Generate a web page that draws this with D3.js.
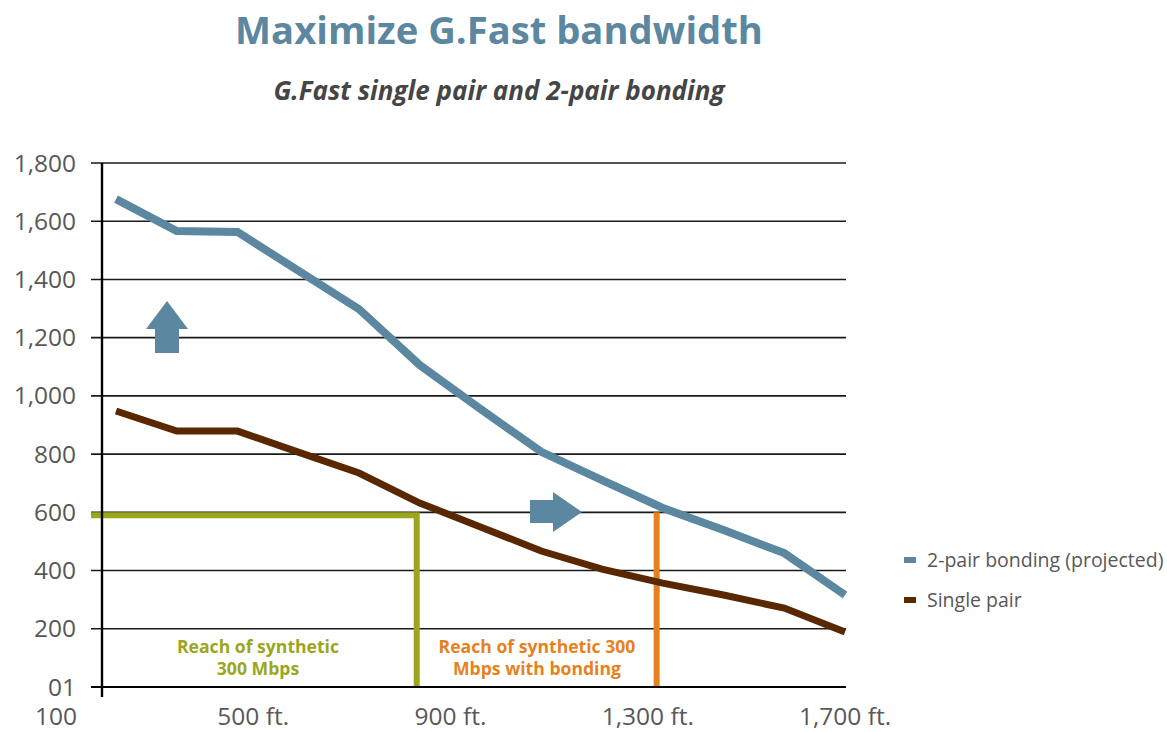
<!DOCTYPE html>
<html>
<head>
<meta charset="utf-8">
<script src="https://cdn.jsdelivr.net/npm/d3@7/dist/d3.min.js"></script>
<style>
  html, body { margin: 0; padding: 0; background: #fff; }
  svg { display: block; font-family: "Open Sans", "Noto Sans", sans-serif; }
</style>
</head>
<body>
<svg id="chart" width="1167" height="732"></svg>
<script>
// Throughput (Mbps) at evenly spaced loop lengths, short to long
const bondedMbps = [1676, 1566, 1563, 1430, 1298, 1106, 955, 808, 711, 615, 539, 460, 316];
const singleMbps = [948, 879, 879, 807, 735, 632, 550, 467, 405, 357, 316, 271, 189];

const yTicks = [0, 200, 400, 600, 800, 1000, 1200, 1400, 1600, 1800];
const yTickLabels = ["01", "200", "400", "600", "800", "1,000", "1,200", "1,400", "1,600", "1,800"];

const xTickFeet = [100, 500, 900, 1300, 1700];
const xTickLabels = ["100", "500 ft.", "900 ft.", "1,300 ft.", "1,700 ft."];

const seriesNames = ["2-pair bonding (projected)", "Single pair"];
const seriesColors = ["#5b87a1", "#592800"];

// Target rate and where each configuration reaches it (position along the loop-length points)
const targetMbps = 600;
const reachSingle = 4.95;
const reachBonded = 8.9;

const svg = d3.select("#chart");

const x = d3.scaleLinear().domain([0, bondedMbps.length - 1]).range([116, 845]);
const y = d3.scaleLinear().domain([0, 1800]).range([687, 163]);
const xLabel = d3.scaleLinear().domain([100, 1700]).range([56, 845]);

const gridLeft = 91, gridRight = 846;

// Title and subtitle
svg.append("text")
  .attr("x", 499).attr("y", 44)
  .attr("text-anchor", "middle")
  .attr("font-size", 38.2).attr("font-weight", 700)
  .attr("fill", "#5b87a1")
  .text("Maximize G.Fast bandwidth");

svg.append("text")
  .attr("x", 499).attr("y", 100)
  .attr("text-anchor", "middle")
  .attr("font-size", 26).attr("font-weight", 700).attr("font-style", "italic")
  .attr("fill", "#454545")
  .text("G.Fast single pair and 2-pair bonding");

// Horizontal gridlines
svg.append("g").selectAll("line")
  .data(yTicks.filter(d => d > 0))
  .join("line")
  .attr("x1", gridLeft).attr("x2", gridRight)
  .attr("y1", d => y(d)).attr("y2", d => y(d))
  .attr("stroke", "#1a1a1a").attr("stroke-width", 1.6);

// Y tick labels
svg.append("g").selectAll("text")
  .data(yTicks)
  .join("text")
  .attr("x", 76).attr("y", d => y(d))
  .attr("dy", "0.35em")
  .attr("text-anchor", "end")
  .attr("font-size", 24.5)
  .attr("fill", "#585858")
  .text((d, i) => yTickLabels[i]);

// X tick labels
svg.append("g").selectAll("text")
  .data(xTickFeet)
  .join("text")
  .attr("x", d => xLabel(d)).attr("y", 725)
  .attr("text-anchor", "middle")
  .attr("font-size", 24.5)
  .attr("fill", "#585858")
  .text((d, i) => xTickLabels[i]);

// Reach markers
svg.append("path")
  .attr("d", `M${gridLeft},${y(targetMbps) + 3}H${x(reachSingle)}V${y(0)}`)
  .attr("fill", "none")
  .attr("stroke", "#9ba61c").attr("stroke-width", 6)
  .attr("stroke-linejoin", "miter");

svg.append("line")
  .attr("x1", x(reachBonded)).attr("x2", x(reachBonded))
  .attr("y1", y(targetMbps)).attr("y2", y(0))
  .attr("stroke", "#e6821e").attr("stroke-width", 6);

// Axes
svg.append("line")
  .attr("x1", gridLeft).attr("x2", gridRight)
  .attr("y1", y(0)).attr("y2", y(0))
  .attr("stroke", "#000").attr("stroke-width", 2.2);
svg.append("line")
  .attr("x1", 102).attr("x2", 102)
  .attr("y1", y(1800)).attr("y2", y(0) + 10)
  .attr("stroke", "#000").attr("stroke-width", 2.4);

// Series lines
const line = d3.line().x((d, i) => x(i)).y(d => y(d));
[bondedMbps, singleMbps].forEach((vals, k) => {
  svg.append("path")
    .datum(vals)
    .attr("d", line)
    .attr("fill", "none")
    .attr("stroke", seriesColors[k])
    .attr("stroke-width", k === 0 ? 8 : 7)
    .attr("stroke-linejoin", "miter")
    .attr("stroke-linecap", "butt");
});

// Block arrows
svg.append("path")
  .attr("d", "M167,301 L188,329 L179,329 L179,353 L155,353 L155,329 L146,329 Z")
  .attr("fill", "#5b87a1");
svg.append("path")
  .attr("d", "M582,512 L553,492 L553,500 L530,500 L530,523 L553,523 L553,532 Z")
  .attr("fill", "#5b87a1");

// Annotations
const notes = [
  { lines: ["Reach of synthetic", "300 Mbps"], cx: 258, color: "#9ba61c" },
  { lines: ["Reach of synthetic 300", "Mbps with bonding"], cx: 537, color: "#e6821e" }
];
notes.forEach(n => {
  const t = svg.append("text")
    .attr("text-anchor", "middle")
    .attr("font-size", 17.6).attr("font-weight", 700)
    .attr("fill", n.color);
  n.lines.forEach((s, i) => {
    t.append("tspan").attr("x", n.cx).attr("y", 653 + i * 22).text(s);
  });
});

// Legend
const legend = svg.append("g");
seriesNames.forEach((name, i) => {
  const ly = 560 + i * 40;
  legend.append("rect")
    .attr("x", 904).attr("y", ly - 3).attr("width", 12).attr("height", 6)
    .attr("fill", seriesColors[i]);
  legend.append("text")
    .attr("x", 927).attr("y", ly).attr("dy", "0.35em")
    .attr("font-size", 19.5)
    .attr("fill", "#585858")
    .text(name);
});
</script>
</body>
</html>
